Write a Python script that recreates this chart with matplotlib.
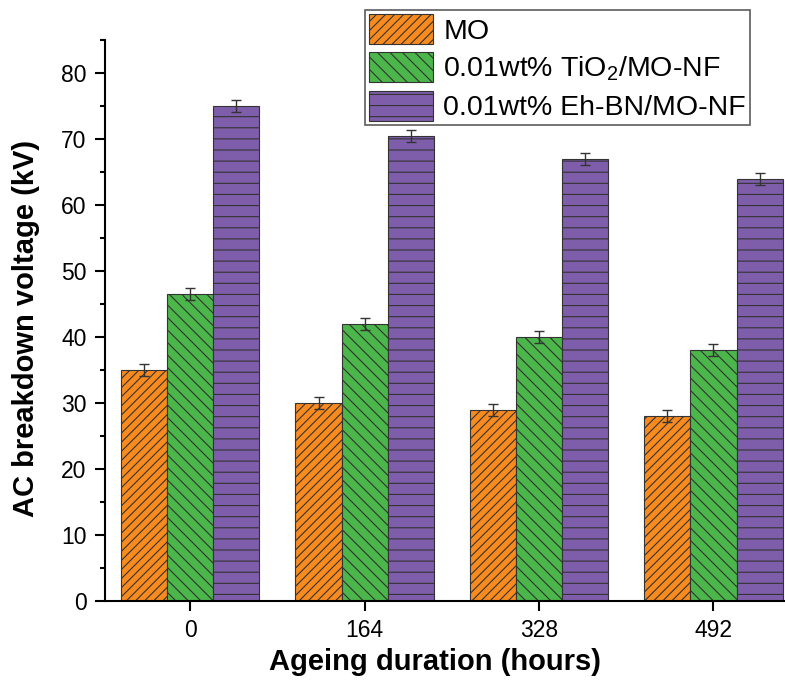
import numpy as np
import matplotlib
matplotlib.use('Agg')
import matplotlib.pyplot as plt
import matplotlib.hatch as mhatch
from matplotlib.path import Path
from matplotlib.ticker import MultipleLocator

# данные
durations = ['0', '164', '328', '492']
series_names = ['MO', '0.01wt% TiO$_2$/MO-NF', '0.01wt% Eh-BN/MO-NF']
mo = [35, 30, 29, 28]
tio2 = [46.5, 42, 40, 38]
ehbn = [75, 70.5, 67, 64]
err_mo = [0.9, 0.9, 0.9, 0.9]
err_tio2 = [0.9, 0.9, 0.9, 0.9]
err_ehbn = [0.9, 0.9, 0.9, 0.9]

# плотность штриховки для каждого узора (по умолчанию в matplotlib 6)
hatch_density = {'/': 22, '\\': 16, '-': 9}
Path.hatch = staticmethod(lambda pat, density=6: mhatch.get_path(pat, hatch_density.get(pat, density)))

plt.rcParams['font.family'] = ['Liberation Sans', 'DejaVu Sans']
plt.rcParams['mathtext.fontset'] = 'custom'
plt.rcParams['mathtext.rm'] = 'Liberation Sans'
plt.rcParams['hatch.linewidth'] = 0.8
plt.rcParams['hatch.color'] = '#222222'

fig = plt.figure(figsize=(7.85, 6.84), dpi=100)
ax = fig.add_axes([105 / 785, 83 / 684, 680 / 785, 561 / 684])

x = np.arange(len(durations))
w = 0.264
colors = ['#F88A1E', '#4BB64A', '#7E5EAA']
hatches = ['/', '\\', '-']
vals = [mo, tio2, ehbn]
errs = [err_mo, err_tio2, err_ehbn]

for k in range(3):
    ax.bar(x + (k - 1) * w, vals[k], w, yerr=errs[k], color=colors[k],
           edgecolor='#333333', linewidth=0.8, hatch=hatches[k],
           label=series_names[k], capsize=3.8,
           error_kw=dict(ecolor='#333333', elinewidth=1, capthick=1))

ax.set_xlim(-0.488, 3.41)
ax.set_ylim(0, 85)
ax.set_xticks(x)
ax.set_xticklabels(durations)
ax.yaxis.set_major_locator(MultipleLocator(10))
ax.yaxis.set_minor_locator(MultipleLocator(5))
ax.tick_params(axis='both', which='major', labelsize=16.5, length=7.2, width=1.5,
               direction='out', pad=6)
ax.tick_params(axis='y', which='minor', length=3.6, width=1.5, direction='out')

ax.spines['top'].set_visible(False)
ax.spines['right'].set_visible(False)
ax.spines['left'].set_linewidth(1.5)
ax.spines['bottom'].set_linewidth(1.5)

ax.set_xlabel('Ageing duration (hours)', fontsize=21, fontweight='bold')
ax.set_ylabel('AC breakdown voltage (kV)', fontsize=21, fontweight='bold')
ax.xaxis.set_label_coords(0.485, -0.0838)
ax.yaxis.set_label_coords(-0.0956, 0.486)

leg = ax.legend(loc='upper left', bbox_to_anchor=(365 / 785, 1 - 10 / 684),
                bbox_transform=fig.transFigure, fontsize=20.5, frameon=True,
                fancybox=False, edgecolor='#333333', handlelength=2.25,
                handleheight=1.25, labelspacing=0.25, borderaxespad=0,
                borderpad=0.15, handletextpad=0.35)
leg.get_frame().set_linewidth(1.2)

plt.savefig('out.png', dpi=100)
